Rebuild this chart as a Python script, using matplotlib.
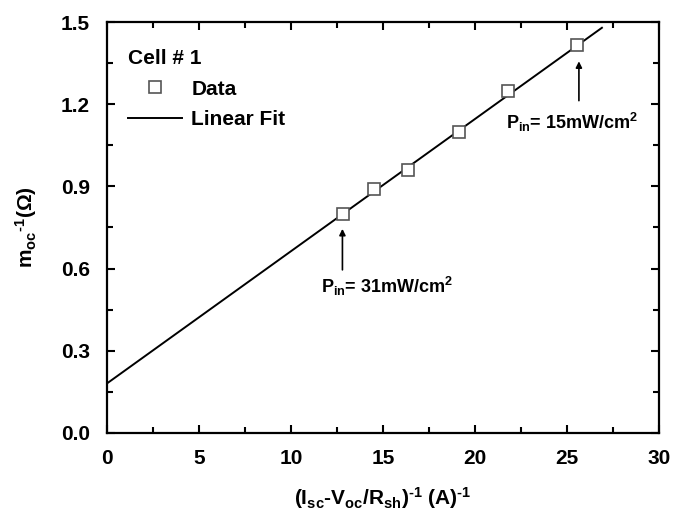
import matplotlib
matplotlib.use('agg')
import matplotlib.pyplot as plt
from matplotlib.ticker import MultipleLocator
import numpy as np

plt.rcParams['font.family'] = ['Liberation Sans', 'DejaVu Sans']
plt.rcParams['font.weight'] = 'bold'
plt.rcParams['mathtext.fontset'] = 'custom'
plt.rcParams['mathtext.rm'] = 'Liberation Sans'
plt.rcParams['mathtext.bf'] = 'Liberation Sans:bold'
plt.rcParams['mathtext.it'] = 'Liberation Sans:italic'

inv_current = [12.81, 14.51, 16.34, 19.15, 21.79, 25.56]
inv_m_oc = [0.800, 0.889, 0.959, 1.100, 1.249, 1.415]

# linear fit parameters and extent
fit_intercept = 0.18
fit_slope = 0.0483
fit_x = [0.0, 26.9]

annot_labels = [r'$\mathbf{P_{in}}$= 31mW/cm$^\mathbf{2}$', r'$\mathbf{P_{in}}$= 15mW/cm$^\mathbf{2}$']

fig = plt.figure(figsize=(6.85, 5.14), dpi=100)
ax = fig.add_axes([0.156, 0.158, 0.806, 0.799])

xs = np.array(fit_x)
ax.plot(xs, fit_intercept + fit_slope * xs, color='black', lw=1.4, label='Linear Fit', zorder=2)
ax.plot(inv_current, inv_m_oc, ls='none', marker='s', ms=8.5, mfc='white', mec='#555555',
        mew=1.2, label='Data', zorder=3)

# arrows with power labels
ax.annotate('', xy=(12.8, 0.755), xytext=(12.8, 0.585),
            arrowprops=dict(arrowstyle='-|>', color='black', lw=1.2, mutation_scale=9))
ax.text(15.2, 0.51, annot_labels[0], ha='center', va='baseline', fontsize=13, fontweight='bold')
ax.annotate('', xy=(25.65, 1.367), xytext=(25.65, 1.203),
            arrowprops=dict(arrowstyle='-|>', color='black', lw=1.2, mutation_scale=9))
ax.text(25.25, 1.11, annot_labels[1], ha='center', va='baseline', fontsize=13, fontweight='bold')

ax.set_xlim(0, 30)
ax.set_ylim(0, 1.5)
ax.xaxis.set_major_locator(MultipleLocator(5))
ax.xaxis.set_minor_locator(MultipleLocator(2.5))
ax.yaxis.set_major_locator(MultipleLocator(0.3))
ax.yaxis.set_minor_locator(MultipleLocator(0.15))
ax.yaxis.set_major_formatter(matplotlib.ticker.StrMethodFormatter('{x:.1f}'))

for s in ax.spines.values():
    s.set_linewidth(1.6)
ax.tick_params(which='both', direction='in', top=True, right=True, width=1.5)
ax.tick_params(which='major', length=6, labelsize=15)
ax.tick_params(axis='x', which='major', pad=12)
ax.tick_params(axis='y', which='major', pad=12)
ax.tick_params(which='minor', length=4)
for lab in ax.get_xticklabels() + ax.get_yticklabels():
    lab.set_fontweight('bold')

ax.set_xlabel(r'$\mathbf{(I_{sc}}$-$\mathbf{V_{oc}/R_{sh})^{\text{-}1}}$ (A)$^{\mathbf{\text{-}1}}$',
              fontsize=15, fontweight='bold', labelpad=12)
ax.set_ylabel(r'$\mathbf{m_{oc}{}^{\text{-}1}}$($\Omega$)', fontsize=15, fontweight='bold', labelpad=16)

handles, labels = ax.get_legend_handles_labels()
leg = ax.legend(handles[::-1], labels[::-1], title='Cell # 1', loc='upper left', frameon=False,
                alignment='left', fontsize=15, title_fontproperties={'weight': 'bold', 'size': 15},
                handlelength=2.6, handletextpad=0.45, labelspacing=0.55,
                bbox_to_anchor=(0.004, 0.98))
for t in leg.get_texts():
    t.set_fontweight('bold')

fig.savefig('out.png', dpi=100)
